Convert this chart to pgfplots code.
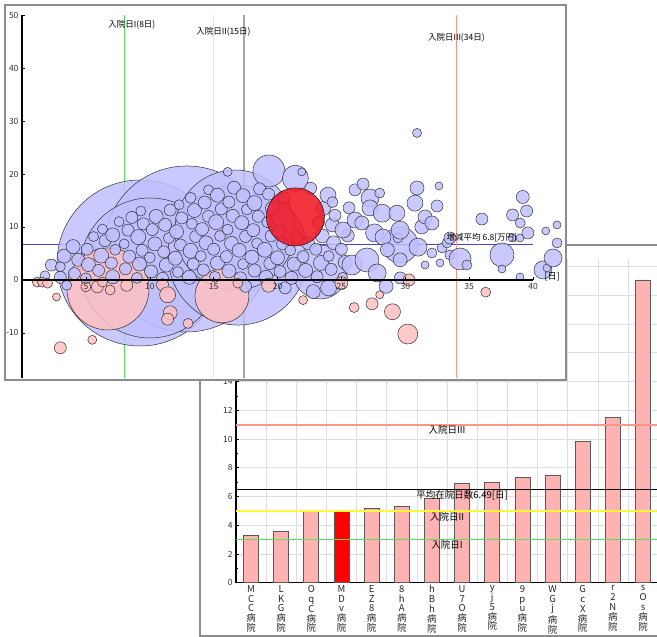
\documentclass[border=0pt]{standalone}
\usepackage{fontspec}
\setmainfont{Noto Sans CJK JP}
\usepackage{pgfplots}
\pgfplotsset{compat=1.18}

\definecolor{bubblue}{RGB}{192,192,255}
\definecolor{bubpink}{RGB}{255,192,192}
\definecolor{bubred}{RGB}{240,24,36}
\definecolor{barpink}{RGB}{255,178,178}
\definecolor{framegray}{RGB}{140,140,140}
\definecolor{gridgray}{RGB}{222,222,222}
\definecolor{lgreen}{RGB}{90,225,90}
\definecolor{lyellow}{RGB}{255,245,60}
\definecolor{lgray}{RGB}{165,165,165}
\definecolor{lsalmon}{RGB}{255,150,140}
\definecolor{lblue}{RGB}{70,70,190}

\pgfplotsset{
  bub/.style={scatter, only marks, mark=*, line width=0.5pt,
    scatter/use mapped color={draw=black!80, fill=#1, fill opacity=0.85},
    visualization depends on={\thisrow{r}\as\rad},
    scatter/@pre marker code/.append style={/tikz/mark size=\rad pt}},
}

\begin{document}
\begin{tikzpicture}
\path[use as bounding box] (0,0) rectangle (657pt,637pt);

% lower panel: mean length of stay per hospital
\draw[framegray, line width=2pt, fill=white] (200pt,1pt) rectangle (690pt,392pt);
\begin{axis}[
  at={(236pt,54.3pt)}, anchor=south west, scale only axis,
  width=437.2pt, height=323.3pt,
  xmin=-0.5, xmax=14, ymin=0, ymax=22.5,
  axis lines*=left, axis line style={line width=1.5pt, black},
  xtick={0,...,13},
  xticklabels={{M\\C\\C\\病\\院},{L\\K\\G\\病\\院},{O\\q\\C\\病\\院},{M\\D\\v\\病\\院},
    {E\\Z\\8\\病\\院},{8\\h\\A\\病\\院},{h\\B\\h\\病\\院},{U\\7\\O\\病\\院},
    {y\\j\\5\\病\\院},{9\\p\\u\\病\\院},{W\\G\\j\\病\\院},{G\\c\\X\\病\\院},
    {r\\2\\N\\病\\院},{s\\O\\s\\病\\院}},
  xtick style={draw=none},
  minor xtick={0.5,1.5,...,13.5}, xminorgrids=true,
  ytick={0,2,...,22}, minor ytick={1,3,...,21}, ymajorgrids=true,
  major grid style={gridgray, line width=0.6pt},
  minor grid style={gridgray, line width=0.6pt},
  tick align=inside, major tick length=3pt, minor tick length=2pt,
  ytick style={black, line width=0.5pt},
  /pgf/number format/assume math mode=true,
  yticklabel style={font=\fontsize{8.5}{9}\selectfont, text=black!80},
  xticklabel style={align=center, font=\fontsize{9.5}{9.9}\selectfont, text=black!85, yshift=1pt},
]
\addplot[ybar, bar shift=0pt, bar width=15pt, fill=barpink, draw=black!65, line width=0.8pt]
  coordinates {(0,3.30) (1,3.58) (2,4.99) (4,5.18) (5,5.29) (6,5.87) (7,6.90)
               (8,7.00) (9,7.30) (10,7.47) (11,9.80) (12,11.50) (13,21.07)};
\addplot[ybar, bar shift=0pt, bar width=15pt, fill=red, draw=black!65, line width=0.8pt]
  coordinates {(3,5.04)};
\addplot[lsalmon, line width=1.8pt] coordinates {(-0.5,11) (14,11)};
\addplot[black, line width=1.5pt] coordinates {(-0.5,6.49) (14,6.49)};
\addplot[lyellow, line width=2pt] coordinates {(-0.5,5) (14,5)};
\addplot[lgreen, line width=1.8pt] coordinates {(-0.5,3) (14,3)};
\node[anchor=north, inner sep=1pt, font=\fontsize{9.5}{10}\selectfont] at (axis cs:6.5,11) {入院日III};
\node[anchor=north, inner sep=1pt, font=\fontsize{9.5}{10}\selectfont] at (axis cs:7.0,6.49) {平均在院日数6.49[日]};
\node[anchor=north, inner sep=1pt, font=\fontsize{9.5}{10}\selectfont] at (axis cs:6.5,5) {入院日II};
\node[anchor=north, inner sep=1pt, font=\fontsize{9.5}{10}\selectfont] at (axis cs:6.5,3) {入院日I};
\end{axis}

% upper panel: bubble chart
\draw[framegray, line width=2pt, fill=white] (5pt,257pt) rectangle (566pt,632pt);
\begin{axis}[
  at={(22pt,259pt)}, anchor=south west, scale only axis,
  width=511pt, height=363pt,
  xmin=0, xmax=40, ymin=-18.5, ymax=50, clip=false,
  axis lines=none,
  xtick={5,10,...,40}, ytick={-10,0,...,50},
  xticklabels={}, yticklabels={}, tick style={draw=none},
  grid=major, major grid style={gridgray, line width=0.6pt},
]
% large blue bubbles
\addplot[bub=bubblue] table {
x y r
9.24 3.20 83
12.90 5.85 83
10.02 2.26 70
16.90 4.70 70
16.67 9.43 60
};
% large pink bubbles
\addplot[bub=bubpink] table {
x y r
6.73 -1.70 41
15.65 -3.00 27
};
% medium blue bubbles
\addplot[bub=bubblue] table {
x y r
23.33 1.50 27
19.33 20.57 16
21.40 19.20 13
29.60 6.60 18
};
% small blue bubbles
\addplot[bub=bubblue] table {
x y r
1.8 0.8 5
2.3 2.8 6
3.0 0.5 6
3.0 2.5 5
3.3 4.5 7
3.5 -1.0 5
4.1 1.2 6
4.4 3.8 6.5
4.0 6.3 7
5.0 0.3 5.5
5.2 2.9 7
5.1 5.8 6
5.6 8.2 5
6.0 1.8 6
6.2 4.6 7.5
6.5 7.4 6
6.3 9.6 5
7.1 0.6 7
7.0 3.2 6
7.3 5.7 5.5
7.1 8.5 7
7.6 11.0 5
8.1 2.1 6
8.4 4.4 6.5
8.0 6.8 5
8.3 9.4 6
8.6 11.8 6
9.0 0.4 5.5
9.2 3.0 7
9.4 5.6 6
9.1 8.1 7.5
9.5 10.6 6
9.3 13.0 5
10.1 1.6 6.5
10.0 4.2 5.5
10.4 6.8 7
10.2 9.5 6
10.5 12.0 7
11.0 0.3 6
11.3 2.8 7
11.1 5.3 6
11.5 7.9 5.5
11.2 10.4 6.5
11.6 13.2 6
12.2 1.5 5.5
12.0 4.1 7
12.4 6.6 6
12.1 9.1 7
12.5 11.7 6
12.3 14.2 5
13.1 0.5 7
13.4 3.0 6
13.2 5.5 7.5
13.6 8.2 6
13.3 10.6 5.5
13.5 13.1 7
13.2 15.5 5.5
14.2 1.9 6
14.0 4.5 5.5
14.4 7.0 7
14.1 9.6 6.5
14.6 12.0 6
14.3 14.6 6.5
14.6 17.0 5
15.1 0.6 5.5
15.3 3.2 7
15.0 5.8 6
15.5 8.3 5.5
15.2 10.9 7.5
15.6 13.4 6
15.3 16.0 7
16.2 1.7 7
16.0 4.4 6
16.4 6.9 7
16.1 9.5 5.5
16.5 12.1 6.5
16.2 14.7 6
16.6 17.4 6.5
16.1 20.4 4.5
17.1 0.4 6
17.5 -1.2 6
17.3 3.0 5.5
17.0 5.6 7
17.5 8.2 6
17.2 10.8 7
17.6 13.3 5.5
17.3 15.9 7
18.2 1.8 6.5
18.0 4.3 7
18.4 6.9 5.5
18.1 9.4 6.5
18.5 12.0 6
18.2 14.5 7.5
18.6 17.2 6
19.1 0.5 7
19.4 3.1 6
19.0 5.7 7.5
19.5 8.3 6
19.2 10.9 5.5
19.6 13.5 7
19.3 16.2 6
20.2 1.6 6
20.6 -1.5 6
20.0 4.2 7
20.4 6.8 6
20.1 9.3 6.5
20.5 15.5 6
21.1 0.4 6.5
21.3 3.0 7
21.0 5.6 5.5
21.5 8.0 6
22.2 1.8 7
22.0 4.4 6
22.4 6.9 6.5
22.6 17.3 6
21.9 20.4 4
22.8 -2.2 7
23.1 0.6 6
23.4 3.2 7.5
23.0 5.8 6
23.5 8.3 7
23.2 10.9 6
23.6 13.5 7
23.95 16.0 8
24.0 -1.5 8
24.2 2.0 6
24.0 4.5 5.5
24.4 7.0 7
24.3 10.4 7
24.5 12.2 6
24.3 14.7 5.5
25.1 0.5 5
25.3 3.3 7
25.0 5.8 6
25.5 8.4 6.5
25.13 9.43 8
25.6 13.6 6
25.83 2.83 10
26.07 11.3 8
26.07 17.0 6
26.6 10.75 7
26.7 18.1 6
27.0 3.77 12
27.24 15.47 9
27.24 13.6 8
27.6 8.87 9
27.8 1.32 9
28.0 16.4 5
28.2 12.6 9
28.26 8.1 8
28.5 -1.2 7
28.6 5.7 7
29.35 12.6 8
29.43 7.92 5
29.6 9.4 9
29.6 3.8 7
29.6 0.38 6
30.76 14.5 8
30.92 17.36 7
30.92 27.74 4.5
31.0 6.2 9
31.3 10.0 7
31.55 11.89 7
31.55 2.83 4
32.09 10.75 7
32.09 5.09 5
32.49 13.96 6
32.64 17.74 4
32.72 3.21 4
32.88 6.04 5
33.27 6.98 5
33.5 7.92 6
33.5 4.72 5
34.29 3.96 11
34.83 2.83 5
36.0 11.5 6
37.57 4.72 12
37.57 2.08 4
38.36 7.92 4
38.4 12.26 6
38.98 7.92 4
38.98 0.57 4
39.0 10.75 5
39.2 15.66 6.5
39.5 13.0 6
39.6 8.87 6
40.78 1.89 9
41.1 2.26 4
41.0 9.25 4
41.57 4.15 9
41.88 10.38 4
41.88 6.98 5
};
% small pink bubbles
\addplot[bub=bubpink] table {
x y r
1.2 -0.4 5
1.6 -0.4 5
2.0 -0.6 5
2.7 -3.2 4
3.0 -12.8 6
5.5 -11.3 4.5
5.0 -1.3 5
5.9 -1.3 6
6.3 -0.4 5
6.9 -1.9 5
8.2 -1.0 6
11.0 -0.9 6
11.4 -2.8 8
11.6 -6.2 7
11.4 -7.4 6
13.0 -8.2 5
16.9 -0.6 5
19.3 -1.0 7
22.0 -3.8 4.5
25.0 -0.6 6.5
26.0 -5.2 5
27.4 -4.5 6
28.0 -2.8 4
29.0 -6.0 8
30.2 -10.2 10
30.3 0.0 6
36.3 -2.3 5
};
% own hospital
\addplot[only marks, mark=*, mark size=29pt,
  mark options={fill=bubred, draw=none, fill opacity=0.88}] coordinates {(21.4,11.9)};
% reference lines
\addplot[lblue, line width=0.8pt] coordinates {(0,6.8) (40,6.8)};
\addplot[lgreen, line width=1.4pt] coordinates {(8,-18.5) (8,50)};
\addplot[lyellow, line width=1.4pt] coordinates {(15,-18.5) (15,50)};
\addplot[lgray, line width=1.8pt] coordinates {(17.38,-18.5) (17.38,50)};
\addplot[lsalmon, line width=1.4pt] coordinates {(34,-18.5) (34,50)};
\end{axis}

% upper panel: axis lines, tick labels and notes drawn over the bubbles
\begin{axis}[
  at={(22pt,259pt)}, anchor=south west, scale only axis,
  width=511pt, height=363pt,
  xmin=0, xmax=40, ymin=-18.5, ymax=50, clip=false,
  axis x line*=middle, axis y line*=left,
  x axis line style={line width=2pt, black},
  y axis line style={line width=1.5pt, black},
  xtick={5,10,...,40}, ytick={-10,0,...,50},
  hide obscured x ticks=false,
  tick align=inside, major tick length=3pt,
  tick style={black, line width=0.5pt},
  /pgf/number format/assume math mode=true,
  ticklabel style={font=\fontsize{8.5}{10}\selectfont, text=black!80},
]
\addplot[draw=none, forget plot] coordinates {(0,0)};
\node[font=\fontsize{8.5}{10}\selectfont] at (axis cs:8.6,48.1) {入院日I(8日)};
\node[font=\fontsize{8.5}{10}\selectfont] at (axis cs:15.77,46.8) {入院日II(15日)};
\node[font=\fontsize{8.5}{10}\selectfont] at (axis cs:34.0,45.66) {入院日III(34日)};
\node[font=\fontsize{8.5}{10}\selectfont, anchor=south, inner sep=1.5pt] at (axis cs:36,6.8) {増減平均 6.8[万円]};
\node[font=\fontsize{9}{10}\selectfont] at (axis cs:41.5,0.6) {[日]};
\end{axis}
\end{tikzpicture}
\end{document}
